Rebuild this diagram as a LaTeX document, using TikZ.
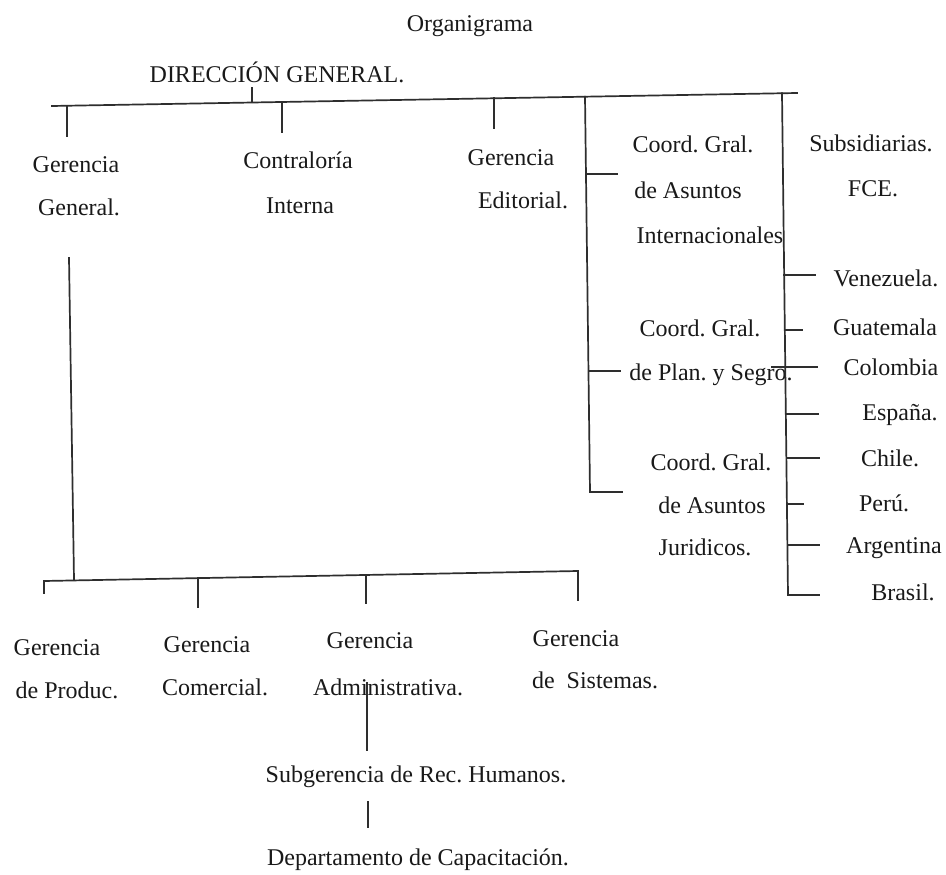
\documentclass[tikz,border=0pt]{standalone}
\usepackage{fontspec}
\setmainfont{Liberation Serif}
\frenchspacing
\begin{document}
\begin{tikzpicture}[x=1pt,y=-1pt,
  lbl/.style={inner sep=0pt, anchor=base, text=black!90, font=\fontsize{24}{28}\selectfont\frenchspacing},
  ln/.style={line width=1.7pt, draw=black!82, line cap=rect}]
\useasboundingbox[fill=white] (0,0) rectangle (946,875);
% ---- texts ----
\node[lbl] (title) at (470,32) {Organigrama};
\node[lbl] (dg) at (277,83) {DIRECCIÓN GENERAL.};
\node[lbl] (gg1) at (76,172) {Gerencia};
\node[lbl] (gg2) at (79,215) {General.};
\node[lbl] (ci1) at (298,168) {Contraloría};
\node[lbl] (ci2) at (300,213) {Interna};
\node[lbl] (ge1) at (511,165) {Gerencia};
\node[lbl] (ge2) at (523,208) {Editorial.};
\node[lbl] (ca1) at (693,153) {Coord. Gral.};
\node[lbl] (ca2) at (688,198) {de Asuntos};
\node[lbl] (ca3) at (710,243) {Internacionales};
\node[lbl] (sub1) at (871,151) {Subsidiarias.};
\node[lbl] (sub2) at (873,196) {FCE.};
\node[lbl] (cp1) at (700,336) {Coord. Gral.};
\node[lbl] (cp2) at (711,380) {de Plan. y Segro.};
\node[lbl] (cj1) at (711,470) {Coord. Gral.};
\node[lbl] (cj2) at (712,513) {de Asuntos};
\node[lbl] (cj3) at (705,555) {Juridicos.};
\node[lbl] (ven) at (886,286) {Venezuela.};
\node[lbl] (gua) at (885,335) {Guatemala};
\node[lbl] (col) at (891,375) {Colombia};
\node[lbl] (esp) at (900,420) {España.};
\node[lbl] (chi) at (890,466) {Chile.};
\node[lbl] (per) at (884,511) {Perú.};
\node[lbl] (arg) at (894,553) {Argentina};
\node[lbl] (bra) at (903,600) {Brasil.};
\node[lbl] (gp1) at (57,655) {Gerencia};
\node[lbl] (gp2) at (67,698) {de Produc.};
\node[lbl] (gc1) at (207,652) {Gerencia};
\node[lbl] (gc2) at (215,695) {Comercial.};
\node[lbl] (ga1) at (370,648) {Gerencia};
\node[lbl] (ga2) at (388,695) {Administrativa.};
\node[lbl] (gs1) at (576,646) {Gerencia};
\node[lbl] (gs2) at (595,688) {de~~Sistemas.};
\node[lbl] (sgr) at (416,782) {Subgerencia de Rec. Humanos.};
\node[lbl] (dep) at (418,865) {Departamento de Capacitación.};
% ---- top bar ----
\coordinate (tbL) at (52,106);
\coordinate (tbR) at (797,93);
\coordinate (dgT) at (252,88);   \coordinate (dgB) at (252,101.6);
\coordinate (ggT) at (67,105.7); \coordinate (ggB) at (67,136);
\coordinate (ciT) at (282,102);  \coordinate (ciB) at (282,132);
\coordinate (geT) at (494,98.3); \coordinate (geB) at (494,128);
\draw[ln] (tbL) -- (tbR);
\draw[ln] (dgT) -- (dgB);
\draw[ln] (ggT) -- (ggB);
\draw[ln] (ciT) -- (ciB);
\draw[ln] (geT) -- (geB);
% ---- coordinations ----
\coordinate (cvT) at (585,96.7);
\coordinate (cvB) at (590,492);
\coordinate (cvE) at (622,492);
\coordinate (ca0) at (585.9,174); \coordinate (caE) at (617,174);
\coordinate (cp0) at (588.5,371); \coordinate (cpE) at (620,371);
\draw[ln] (cvT) -- (cvB) -- (cvE);
\draw[ln] (ca0) -- (caE);
\draw[ln] (cp0) -- (cpE);
% ---- subsidiaries ----
\coordinate (svT) at (782,93.3);
\coordinate (svB) at (788,595);
\coordinate (svE) at (819,595);
\draw[ln] (svT) -- (svB) -- (svE);
\coordinate (ven0) at (784.2,275); \coordinate (venE) at (815,275);
\coordinate (gua0) at (784.8,330); \coordinate (guaE) at (802,330);
\coordinate (col0) at (772,367);   \coordinate (colE) at (817,367);
\coordinate (esp0) at (785.8,414); \coordinate (espE) at (818,414);
\coordinate (chi0) at (786.4,458); \coordinate (chiE) at (819,458);
\coordinate (per0) at (786.9,504); \coordinate (perE) at (803,504);
\coordinate (arg0) at (787.4,545); \coordinate (argE) at (819,545);
\foreach \c in {ven,gua,col,esp,chi,per,arg}{\draw[ln] (\c0) -- (\c E);}
% ---- lower branch ----
\coordinate (gvT) at (69,258);
\coordinate (gvB) at (74,579.6);
\draw[ln] (gvT) -- (gvB);
\coordinate (bbL) at (44,581);
\coordinate (bbR) at (578,571);
\draw[ln] (bbL) -- (bbR);
\coordinate (gpB) at (44,593);
\coordinate (gcT) at (198,578.1); \coordinate (gcB) at (198,607);
\coordinate (gaT) at (366,575);   \coordinate (gaB) at (366,603);
\coordinate (gsB) at (578,600);
\draw[ln] (bbL) -- (gpB);
\draw[ln] (gcT) -- (gcB);
\draw[ln] (gaT) -- (gaB);
\draw[ln] (bbR) -- (gsB);
\coordinate (adT) at (367,683); \coordinate (adB) at (367,750);
\draw[ln] (adT) -- (adB);
\coordinate (srT) at (368,802); \coordinate (srB) at (368,827);
\draw[ln] (srT) -- (srB);
\end{tikzpicture}
\end{document}
